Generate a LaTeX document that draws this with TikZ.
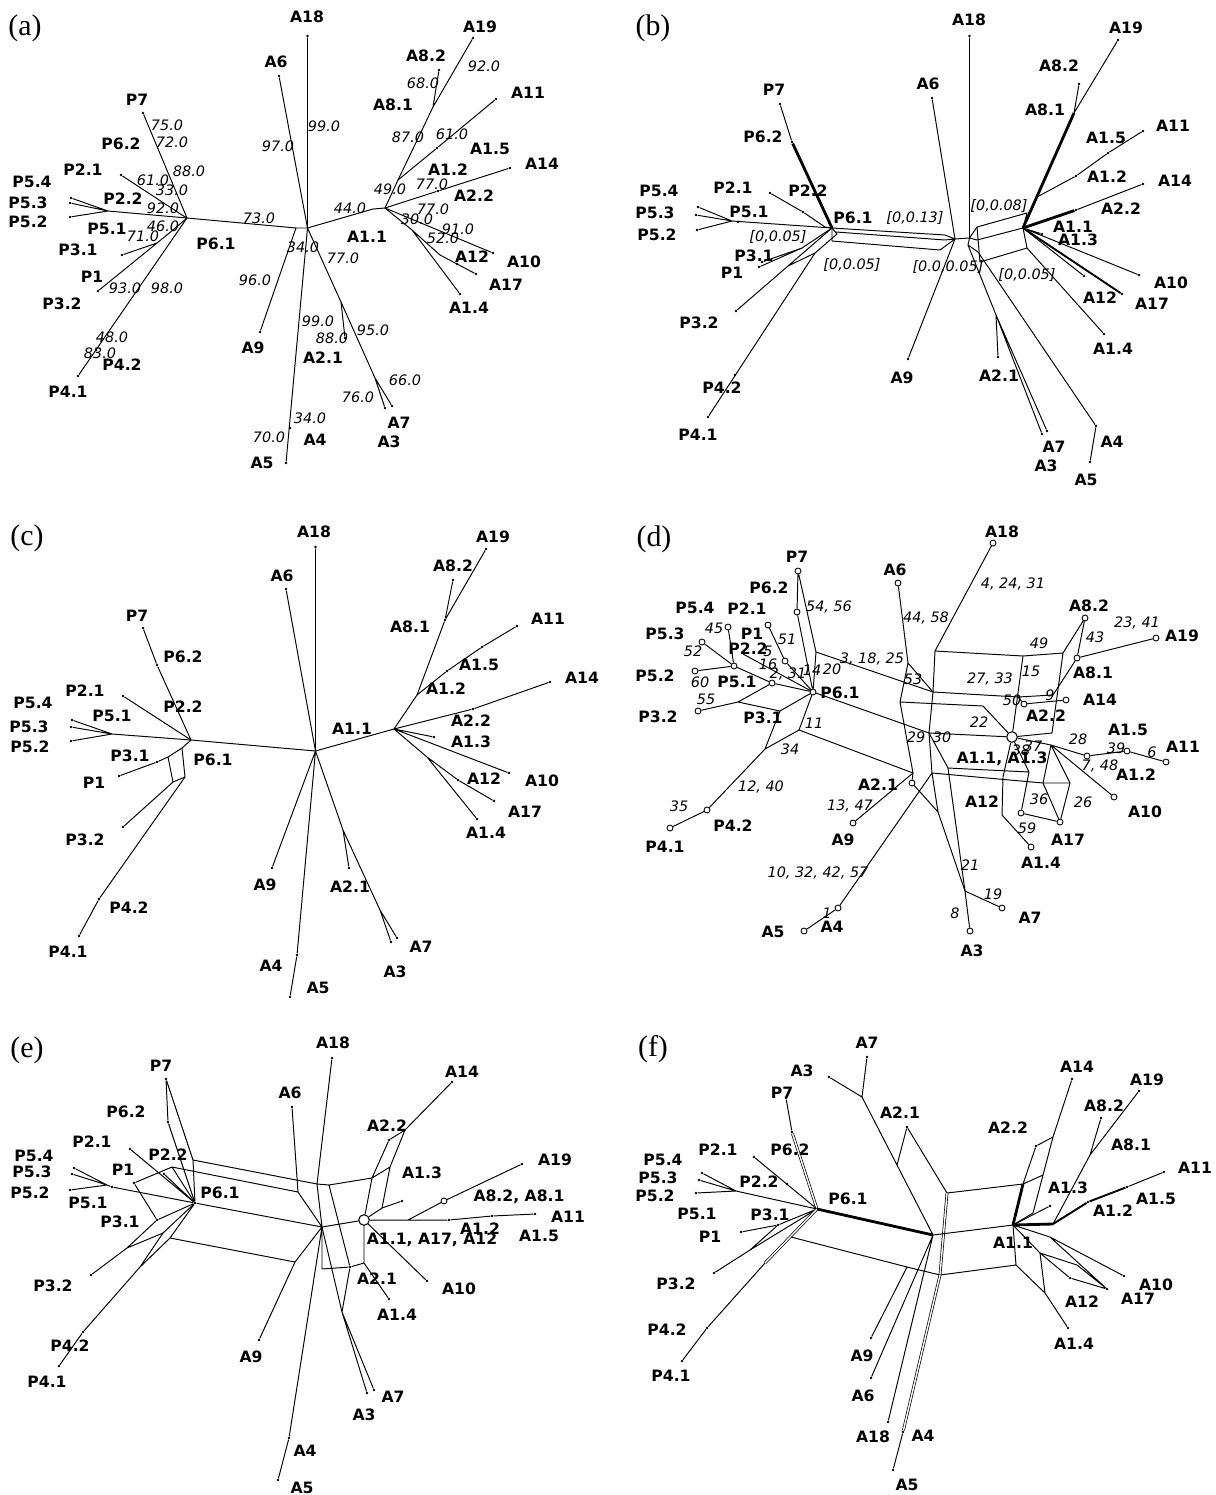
\documentclass[tikz,border=0pt]{standalone}
\usepackage{fontspec}
\newfontfamily\labfam{DejaVu Sans}
\newfontfamily\tagfam{Liberation Serif}

\begin{document}
\begin{tikzpicture}[x=0.02cm,y=-0.02cm,
    lab/.style={font=\labfam\bfseries\fontsize{8.9}{9}\selectfont,inner sep=0pt},
    bl/.style={font=\labfam\itshape\fontsize{8.2}{9}\selectfont,inner sep=0pt},
    tag/.style={font=\tagfam\fontsize{17}{18}\selectfont,inner sep=0pt},
    tip/.style={circle,fill,inner sep=0pt,minimum size=1.5pt},
    otip/.style={circle,draw,fill=white,inner sep=0pt,minimum size=3.4pt,line width=0.5pt},
    ctr/.style={circle,draw,fill=white,inner sep=0pt,minimum size=6pt,line width=0.6pt},
    net/.style={line width=0.55pt,line join=round},
    fat/.style={line width=1.6pt},
    dbl/.style={double,double distance=0.8pt,line width=0.4pt}]
  \useasboundingbox (0,0) rectangle (1216,1495);

  % ---- (a) tree with bootstrap values
  \node[tag] (ta) at (25,28) {(a)};
  \foreach \n/\p in {aC/{307.5,228},aCl/{296,228},a61/{187,218},a21j/{182,215},a5j/{108,211},
      a31j/{157,243},a1j/{173,230},a2j/{341,302},a37j/{375,378},a11/{385,208},a11l/{373,209},
      a8j/{398,180},a81/{433,107},a12j/{412,230},a17j/{440,255}}
    \coordinate (\n) at (\p);
  \foreach \n/\p in {aP7/{143,113},aP2-1/{121,175},aP5-4/{71,198},aP5-3/{70,203},aP5-2/{70,217},
      aP3-1/{122,255},aP1/{98,291},aP4-2/{96,350},aP4-1/{78,376},aA18/{307.5,36},aA6/{279,76},
      aA9/{260,332},aA4/{290,428},aA5/{286,463},aA2-1/{345,338},aA3/{385,408},aA7/{392,406},
      aA19/{473,38},aA8-2/{439,70},aA1-5/{437,148},aA11/{496,99},aA2-2/{438,191},aA14/{510,168},
      aA10/{493,253},aA12/{457,264},aA17/{476,274},aA1-4/{460,294}}
    \node[tip] (\n) at (\p) {};
  \draw[net] (aP7) -- (a61) -- (aCl) -- (aC) -- (a11l) -- (a11);
  \draw[net] (aP2-1) -- (a21j) -- (a61);
  \draw[net] (aP5-4) -- (a5j) (aP5-3) -- (a5j) (aP5-2) -- (a5j) -- (a61);
  \draw[net] (aP1) -- (a1j) -- (a61) (aP3-1) -- (a31j);
  \draw[net] (aP4-1) -- (a61);
  \draw[net] (aA18) -- (aC) (aA6) -- (aC) (aA9) -- (aCl) (aC) -- (aA5);
  \draw[net] (aC) -- (a2j) -- (aA2-1) (a2j) -- (a37j) -- (aA3) (a37j) -- (aA7);
  \draw[net] (a11) -- (a8j) -- (a81) -- (aA19) (a81) -- (aA8-2);
  \draw[net] (a8j) -- (aA1-5) -- (aA11);
  \draw[net] (a11) -- (aA2-2) -- (aA14) (a11) -- (aA10);
  \draw[net] (a11) -- (a12j) -- (a17j) -- (aA17) (a12j) -- (aA1-4);
  \foreach \p/\t [count=\i] in {{137,100}/P7,{121,144}/P6.2,{83,170}/P2.1,{32,182}/P5.4,{28,203}/P5.3,
      {28,222}/P5.2,{123,199}/P2.2,{107,229}/P5.1,{78,250}/P3.1,{92,277}/P1,{62,304}/P3.2,
      {122,365}/P4.2,{68,392}/P4.1,{216,244}/P6.1,{307,17}/A18,{276,62}/A6,{253,348}/A9,
      {323,358}/A2.1,{315,440}/A4,{262,463}/A5,{399,423}/A7,{389,442}/A3,{367,237}/A1.1,
      {480,27}/A19,{426,56}/A8.2,{393,105}/A8.1,{528,93}/A11,{490,149}/A1.5,{448,170}/A1.2,
      {542,164}/A14,{474,196}/A2.2,{524,262}/A10,{472,257}/A12,{506,285}/A17,{469,308}/A1.4}
    \node[lab] (la\i) at (\p) {\t};
  \foreach \p/\t [count=\i] in {{167,125}/75.0,{172,142}/72.0,{189,171}/88.0,{153,180}/61.0,
      {172,190}/33.0,{163,208}/92.0,{163,226}/46.0,{143,236}/71.0,{125,288}/93.0,{167,288}/98.0,
      {112,337}/48.0,{100,353}/83.0,{259,218}/73.0,{278,146}/97.0,{324,126}/99.0,{255,280}/96.0,
      {303,247}/34.0,{343,258}/77.0,{318,321}/99.0,{332,338}/88.0,{373,330}/95.0,{405,380}/66.0,
      {358,397}/76.0,{310,418}/34.0,{269,437}/70.0,{350,208}/44.0,{390,189}/49.0,{408,137}/87.0,
      {423,83}/68.0,{484,66}/92.0,{452,134}/61.0,{432,184}/77.0,{433,209}/77.0,{417,219}/30.0,
      {458,229}/91.0,{443,238}/52.0}
    \node[bl] (ba\i) at (\p) {\t};

  % ---- (b) network with intervals
  \node[tag] (tb) at (653,28) {(b)};
  \foreach \n/\p in {b61/{832,228},b21j/{825,227},b5j/{732,221},b31j/{802,248},b3j/{788,266},
      b4j/{815,253},b4k/{837,234},bs2/{836,232},bs3/{832,241},bB1/{945,235},bB2/{945,240},
      bB3/{940,250},bC1/{955,239},bC2/{969.5,238},bc18/{969.5,222},bR1/{977,227},bR2/{1027,213},
      bR3/{977,240},bR5/{980,262},bR6/{1027,248},b11/{1023,228},bD/{968,245},bj/{996,315},
      bE/{978,252},b8j/{1037,197},b81/{1074,113}}
    \coordinate (\n) at (\p);
  \foreach \n/\p in {bP7/{780,104},bP6-2/{792,142},bP2-1/{770,193},bP2-2/{803,212},bP5-4/{698,207},
      bP5-3/{696,215},bP5-2/{697,230},bP5-1/{738,222},bP3-1/{762,262},bP1/{759,267},bP3-2/{736,311},
      bP4-2/{735,375},bP4-1/{708,417},bA6/{932,98},bA18/{969.5,36},bA9/{908,359},bA19/{1118,40},
      bA8-2/{1079,84},bA1-2/{1076,176},bA1-5/{1108,153},bA11/{1143,131},bA2-2/{1076,210},
      bA14/{1143,184},bA1-3/{1042,234},bA10/{1139,275},bA17/{1122,294},bA12/{1084,276},
      bA1-4/{1104,334},bA2-1/{998,357},bA3/{1042,434},bA7/{1047,431},bA4/{1096,426},bA5/{1090,462}}
    \node[tip] (\n) at (\p) {};
  \draw[net] (bP7) -- (bP6-2);
  \draw[fat] (bP6-2) -- (b61);
  \draw[net] (bP2-1) -- (bP2-2) -- (b21j) -- (b61);
  \draw[net] (bP5-4) -- (b5j) (bP5-3) -- (b5j) (bP5-2) -- (b5j) -- (b61);
  \draw[net] (bP3-1) -- (b31j) -- (b61) (bP1) -- (b31j);
  \draw[net] (bP3-2) -- (b3j) -- (b61) (b3j) -- (b4j);
  \draw[net] (bP4-1) -- (b4j) -- (b4k) -- (b61);
  \draw[net] (b61) -- (bB1) -- (bC1) (bs2) -- (bB2) -- (bC1) (b61) -- (bs3) -- (bB3) -- (bC1);
  \draw[net] (bA6) -- (bC1) (bA9) -- (bC1) (bA18) -- (bc18) -- (bC2) -- (bC1);
  \draw[net] (bC2) -- (bR1) -- (bR2) -- (b11) (bC2) -- (bR3) -- (b11);
  \draw[net] (bR1) -- (bR5) -- (bR6) -- (b11);
  \draw[fat] (b11) -- (b81);
  \draw[net] (b81) -- (bA19) (b81) -- (bA8-2) (b8j) -- (bA1-2) -- (bA1-5) -- (bA11);
  \draw[fat] (b11) -- (bA2-2);
  \draw[net] (bA2-2) -- (bA14);
  \draw[net] (b11) -- (bA1-3) (b11) -- (bA10) (b11) -- (bA12) (bR6) -- (bA1-4);
  \draw[line width=1.1pt] (b11) -- (bA17);
  \draw[net] (bC2) -- (bD) -- (bj) -- (bA3) (bj) -- (bA7) (bj) -- (bA2-1);
  \draw[net] (bD) -- (bE) -- (bA4) -- (bA5);
  \foreach \p/\t [count=\i] in {{774,90}/P7,{763,137}/P6.2,{733,188}/P2.1,{808,191}/P2.2,
      {659,191}/P5.4,{655,213}/P5.3,{657,235}/P5.2,{749,212}/P5.1,{853,218}/P6.1,{754,256}/P3.1,
      {732,273}/P1,{699,323}/P3.2,{722,388}/P4.2,{698,435}/P4.1,{902,378}/A9,{928,84}/A6,
      {969,20}/A18,{1126,28}/A19,{1059,66}/A8.2,{1045,110}/A8.1,{1173,126}/A11,{1106,138}/A1.5,
      {1107,177}/A1.2,{1175,181}/A14,{1121,209}/A2.2,{1073,227}/A1.1,{1078,240}/A1.3,
      {1171,283}/A10,{1152,304}/A17,{1100,298}/A12,{1113,349}/A1.4,{999,376}/A2.1,
      {1054,447}/A7,{1046,466}/A3,{1112,442}/A4,{1086,480}/A5}
    \node[lab] (lb\i) at (\p) {\t};
  \foreach \p/\t [count=\i] in {{778,237}/{[0,0.05]},{852,265}/{[0,0.05]},{915,218}/{[0,0.13]},
      {999,206}/{[0,0.08]},{948,267}/{[0.0,0.05]},{1027,275}/{[0,0.05]}}
    \node[bl] (bb\i) at (\p) {\t};

  % ---- (c) network
  \node[tag] (tc) at (27,538) {(c)};
  \foreach \n/\p in {cC/{315.5,751},c61/{191,740},c5j/{112,734},cb1/{168,757},cb2/{182,748},
      cb3/{173,782},cb4/{185,777},c2j/{343,830},c37/{380,910},c11/{394,729},c8j/{417,695},
      c12j/{427,757}}
    \coordinate (\n) at (\p);
  \foreach \n/\p in {cP7/{143,628},cP6-2/{157,665},cP2-1/{123,696},cP5-4/{72,720},cP5-3/{71,727},
      cP5-2/{71,741},cP3-1/{157,762},cP1/{119,776},cP3-2/{123,827},cP4-2/{99,899},cP4-1/{79,936},
      cA18/{315.5,547},cA6/{286,589},cA9/{272,868},cA4/{297,955},cA5/{290,997},cA2-1/{349,868},
      cA3/{391,942},cA7/{397,938},cA8-1/{445,620},cA19/{486,549},cA8-2/{453,580},cA1-2/{447,671},
      cA1-5/{482,647},cA11/{517,626},cA2-2/{473,709},cA14/{550,682},cA1-3/{434,737},
      cA10/{509,773},cA12/{458,780},cA17/{494,801},cA1-4/{477,819}}
    \node[tip] (\n) at (\p) {};
  \draw[net] (cP7) -- (cP6-2) -- (c61) -- (cC) -- (c11);
  \draw[net] (cP2-1) -- (c61);
  \draw[net] (cP5-4) -- (c5j) (cP5-3) -- (c5j) (cP5-2) -- (c5j) -- (c61);
  \draw[net] (cP1) -- (cP3-1) -- (cb1) -- (cb2) -- (c61);
  \draw[net] (cb1) -- (cb3) -- (cb4) -- (cb2);
  \draw[net] (cb3) -- (cP3-2) (cb4) -- (cP4-2) -- (cP4-1);
  \draw[net] (cA18) -- (cC) (cA6) -- (cC) (cA9) -- (cC) (cC) -- (cA4) -- (cA5);
  \draw[net] (cC) -- (c2j) -- (cA2-1) (c2j) -- (c37) -- (cA3) (c37) -- (cA7);
  \draw[net] (c11) -- (c8j) -- (cA8-1) -- (cA19) (cA8-1) -- (cA8-2);
  \draw[net] (c8j) -- (cA1-2) -- (cA1-5) -- (cA11);
  \draw[net] (c11) -- (cA2-2) -- (cA14) (c11) -- (cA1-3) (c11) -- (cA10);
  \draw[net] (c11) -- (c12j) -- (cA12) -- (cA17) (c12j) -- (cA1-4);
  \foreach \p/\t [count=\i] in {{137,616}/P7,{183,657}/P6.2,{183,707}/P2.2,{85,691}/P2.1,
      {33,703}/P5.4,{29,727}/P5.3,{30,747}/P5.2,{112,716}/P5.1,{213,760}/P6.1,{130,756}/P3.1,
      {94,783}/P1,{85,840}/P3.2,{129,908}/P4.2,{68,952}/P4.1,{282,576}/A6,{314,532}/A18,
      {265,885}/A9,{271,966}/A4,{318,988}/A5,{350,887}/A2.1,{421,947}/A7,{395,972}/A3,
      {352,729}/A1.1,{493,537}/A19,{453,566}/A8.2,{410,627}/A8.1,{548,619}/A11,{479,665}/A1.5,
      {446,689}/A1.2,{582,678}/A14,{471,721}/A2.2,{471,742}/A1.3,{542,781}/A10,{484,779}/A12,
      {525,812}/A17,{486,833}/A1.4}
    \node[lab] (lc\i) at (\p) {\t};

  % ---- (d) network with split numbers
  \node[tag] (td) at (654,539) {(d)};
  \foreach \n/\p in {d1/{816,652},d2/{743,654},d3/{738,702},d4/{780,711},d5/{765,749},d6/{799,730},
      dTL/{935,651},dTM/{1023,656},dTR/{1063,653},dML/{933,692},dMM/{1018,697},dMR/{1053,695},
      dA6j/{908,663},dV1/{900,702},dX/{983,706},dH/{929,733},dV2/{913,773},dRM/{1052,733},
      dE/{1051,745},dBL/{932,773},dB2/{948,768},dBM/{1029,772},dBR1/{1043,783},dBR2/{1070,783},
      dLo1/{1003,777},dLo2/{1002,815},d21/{965,891},dK/{938,812}}
    \coordinate (\n) at (\p);
  \foreach \n/\p in {dP7/{798,571},dP6-2/{797,612},dP2-1/{768,625},dP5-4/{728,627},dP5-3/{702,642},
      dP5-2/{695,671},dP5-1/{734,666},dP1/{785,661},dP2-2/{772,683},dP6-1/{813,692},dP3-2/{698,711},
      dP4-2/{707,810},dP4-1/{670,828},dA9/{853,823},dA2-1/{912,783},dA4/{838,908},dA5/{804,931},
      dA6/{898,583},dA18/{993,543},dA8-2/{1085,618},dA8-1/{1077,658},dA19/{1156,638},
      dA14/{1066,700},dA2-2/{1024,704},dA1-2/{1087,756},dA1-5/{1127,751},dA11/{1166,762},
      dA10/{1114,797},dA17/{1060,822},dA12/{1021,813},dA1-4/{1031,847},dA3/{970,931},dA7/{1002,908}}
    \node[otip] (\n) at (\p) {};
  \node[ctr] (dC) at (1012,737) {};
  \draw[net] (dP7) -- (dP6-2) -- (dP6-1) (dP7) -- (d1) -- (dP6-1);
  \draw[net] (dP2-1) -- (dP1) -- (dP6-1) (d2) -- (dP6-1);
  \draw[net] (dP5-4) -- (dP5-1) (dP5-3) -- (dP5-1) (dP5-2) -- (dP5-1) -- (dP2-2) -- (dP6-1);
  \draw[net] (dP3-2) -- (d3) -- (dP2-2) (d3) -- (d4) -- (dP6-1) (d4) -- (d5) -- (d6) -- (dP6-1);
  \draw[net] (d5) -- (dP4-2) -- (dP4-1);
  \draw[net] (d1) -- (dML) (dP6-1) -- (dH) (d6) -- (dV2);
  \draw[net] (dA6) -- (dA6j) -- (dV1) -- (dV2) (dA6j) -- (dML) (dV1) -- (dX) -- (dC);
  \draw[net] (dA9) -- (dV2) -- (dA2-1);
  \draw[net] (dA18) -- (dTL) -- (dTM) -- (dTR) (dTL) -- (dML) -- (dH) -- (dBL);
  \draw[net] (dML) -- (dMM) -- (dMR) (dTM) -- (dC) (dTR) -- (dRM) (dC) -- (dRM);
  \draw[net] (dA8-2) -- (dTR) (dA8-2) -- (dA8-1) -- (dA19) (dA8-1) -- (dMR);
  \draw[net] (dMM) -- (dA2-2) -- (dA14);
  \draw[net] (dH) -- (dC) (dH) -- (dB2) -- (dBM) -- (dC) (dBM) -- (dA12);
  \draw[net] (dBL) -- (dBR1) -- (dBR2);
  \draw[net] (dC) -- (dLo1) -- (dLo2) -- (dA1-4);
  \draw[net] (dC) -- (dE) -- (dA1-2) -- (dA1-5) -- (dA11) (dE) -- (dA10) (dE) -- (dBR1) (dE) -- (dBR2);
  \draw[net] (dBR1) -- (dA17) (dBR2) -- (dA17) (dA12) -- (dA17);
  \draw[net] (dB2) -- (d21) -- (dA3) (d21) -- (dA7);
  \draw[net] (dA4) -- (dBL) -- (dK) (dA4) -- (dA5) (dA2-1) -- (dK) -- (d21);
  \foreach \p/\t [count=\i] in {{797,557}/P7,{769,588}/P6.2,{695,608}/P5.4,{747,609}/P2.1,
      {665,634}/P5.3,{752,634}/P1,{748,649}/P2.2,{655,676}/P5.2,{737,682}/P5.1,{840,693}/P6.1,
      {658,717}/P3.2,{763,718}/P3.1,{733,826}/P4.2,{665,847}/P4.1,{895,570}/A6,{878,785}/A2.1,
      {843,840}/A9,{773,932}/A5,{832,927}/A4,{1002,532}/A18,{1089,606}/A8.2,{1182,636}/A19,
      {1093,673}/A8.1,{1100,700}/A14,{1046,716}/A2.2,{1128,730}/A1.5,{1183,747}/A11,
      {1136,775}/A1.2,{1002,759}/{A1.1, A1.3},{1145,812}/A10,{982,802}/A12,{1068,840}/A17,
      {1041,863}/A1.4,{1030,918}/A7,{972,951}/A3}
    \node[lab] (ld\i) at (\p) {\t};
  \foreach \p/\t [count=\i] in {{829,607}/{54, 56},{714,628}/45,{693,651}/52,{700,682}/60,
      {706,699}/55,{787,639}/51,{768,651}/5,{768,664}/16,{788,674}/{2, 31},{812,670}/14,
      {832,669}/20,{872,659}/{3, 18, 25},{814,723}/11,{790,749}/34,{761,787}/{12, 40},
      {679,806}/35,{850,806}/{13, 47},{818,873}/{10, 32, 42, 57},{827,913}/1,{926,618}/{44, 58},
      {913,679}/53,{1013,584}/{4, 24, 31},{1039,643}/49,{1095,637}/43,{1137,623}/{23, 41},
      {1031,671}/15,{990,679}/{27, 33},{1012,700}/50,{1050,695}/9,{979,722}/22,{916,737}/29,
      {942,737}/30,{1021,750}/38,{1033,746}/37,{1078,739}/28,{1116,748}/39,{1152,752}/6,
      {1100,766}/{7, 48},{1039,799}/36,{1083,802}/26,{1027,828}/59,{970,865}/21,{993,894}/19,
      {955,913}/8}
    \node[bl] (bd\i) at (\p) {\t};

  % ---- (e) network
  \node[tag] (te) at (27,1050) {(e)};
  \foreach \n/\p in {e1/{193,1160},e2/{172,1167},e3/{127,1248},e4/{163,1233},e5/{140,1267},
      e6/{170,1238},e5j/{107,1185},eA/{317,1184},eA6j/{298,1192},eH/{322,1227},eA9j/{295,1262},
      eT1/{329,1185},eT2/{372,1178},eT3/{390,1167},eT4/{382,1208},eT5/{405,1130},eB1/{322,1269},
      eB2/{364,1263},eJ/{342,1312},eF/{408,1220}}
    \coordinate (\n) at (\p);
  \foreach \n/\p in {eP7/{166,1079},eP6-2/{168,1122},eP6-1/{195,1203},eP2-1/{130,1149},
      eP2-2/{164,1174},eP5-4/{74,1168},eP5-3/{72,1174},eP5-2/{70,1190},eP5-1/{112,1187},
      eP1/{134,1183},eP3-1/{157,1220},eP3-2/{91,1275},eP4-2/{83,1332},eP4-1/{59,1366},
      eA6/{292,1107},eA18/{332,1058},eA9/{259,1340},eA4/{289,1438},eA5/{278,1480},
      eA2-1/{350,1267},eA2-2/{389,1140},eA14/{452,1082},eA1-3/{402,1201},eA19/{522,1164},
      eA1-2/{449,1220},eA1-5/{492,1216},eA11/{535,1214},eA10/{427,1281},eA1-4/{389,1299},
      eA3/{367,1393},eA7/{374,1390}}
    \node[tip] (\n) at (\p) {};
  \node[ctr] (eC) at (364,1220) {};
  \node[otip] (eA8) at (444,1201) {};
  \draw[net] (eP7) -- (eP6-2) -- (eP6-1) (eP7) -- (e1) -- (eP6-1) (e1) -- (eA);
  \draw[net] (eP2-1) -- (eP6-1) (eP2-2) -- (eP6-1);
  \draw[net] (eP5-4) -- (e5j) (eP5-3) -- (e5j) (eP5-2) -- (e5j) -- (eP5-1) -- (eP6-1);
  \draw[net] (eP1) -- (e2) -- (eP6-1) (e2) -- (eA6j) (eP1) -- (eP3-1) -- (eP6-1);
  \draw[net] (eP3-2) -- (e3) -- (e4) -- (eP6-1) (e3) -- (eP3-1);
  \draw[net] (eP4-1) -- (eP4-2) -- (e5) -- (e4) (e5) -- (e6) -- (eP6-1) (e6) -- (eA9j);
  \draw[net] (eP6-1) -- (eH) (eA6) -- (eA6j) -- (eH) (eA18) -- (eA) -- (eH) (eA9) -- (eA9j) -- (eH);
  \draw[net] (eH) -- (eA4) -- (eA5) (eH) -- (eC) (eH) -- (eB1) -- (eA2-1) -- (eB2) -- (eC);
  \draw[net] (eA) -- (eT1) -- (eT2) -- (eC) (eT1) -- (eA2-1) -- (eJ) (eH) -- (eJ) -- (eA3) (eJ) -- (eA7);
  \draw[net] (eT2) -- (eA2-2) -- (eT5) -- (eA14) (eT5) -- (eT3) -- (eT4) (eT2) -- (eT3);
  \draw[net] (eC) -- (eT4) -- (eA1-3) (eC) -- (eA1-2) -- (eA1-5) -- (eA11) (eF) -- (eA8) -- (eA19);
  \draw[net] (eC) -- (eA10) (eB2) -- (eA1-4);
  \foreach \p/\t [count=\i] in {{161,1066}/P7,{126,1112}/P6.2,{92,1142}/P2.1,{34,1156}/P5.4,
      {32,1172}/P5.3,{30,1193}/P5.2,{88,1203}/P5.1,{123,1170}/P1,{168,1155}/P2.2,{220,1193}/P6.1,
      {120,1222}/P3.1,{53,1286}/P3.2,{70,1346}/P4.2,{47,1382}/P4.1,{290,1093}/A6,{251,1357}/A9,
      {305,1451}/A4,{302,1488}/A5,{333,1043}/A18,{462,1072}/A14,{387,1126}/A2.2,{422,1173}/A1.3,
      {555,1160}/A19,{519,1197}/{A8.2, A8.1},{568,1217}/A11,{480,1229}/A1.2,{539,1236}/A1.5,
      {432,1240}/{A1.1, A17, A12},{377,1279}/A2.1,{459,1289}/A10,{397,1315}/A1.4,{393,1397}/A7,
      {364,1415}/A3}
    \node[lab] (le\i) at (\p) {\t};

  % ---- (f) network
  \node[tag] (tf) at (653,1049) {(f)};
  \foreach \n/\p in {fj1/{862,1097},fj2/{897,1165},fC/{933,1235},fj3/{947,1193},fTR/{1023,1184},
      f11/{1013,1225},fBL/{940,1275},fBR/{1016,1265},f61/{817,1209},f5j/{736,1191},f3/{750,1250},
      f4/{765,1263},f4b/{791,1237},fq/{907,1267},fk1/{1053,1137},fk3/{1043,1175},fk2/{1033,1213},
      fm/{1053,1224},fA8j/{1090,1155},fn/{1050,1237},fo/{1040,1253},fp/{1077,1265},fq2/{1045,1293}}
    \coordinate (\n) at (\p);
  \foreach \n/\p in {fA7/{867,1057},fA3/{829,1077},fA2-1/{907,1127},fP7/{786,1098},fP6-2/{792,1132},
      fP2-1/{754,1157},fP2-2/{787,1184},fP5-4/{702,1173},fP5-3/{699,1180},fP5-2/{696,1193},
      fP1/{741,1232},fP3-1/{778,1225},fP3-2/{714,1273},fP4-2/{707,1328},fP4-1/{682,1361},
      fA9/{871,1338},fA6/{871,1378},fA18/{888,1422},fA4/{903,1432},fA5/{893,1470},fA14/{1072,1079},
      fA2-2/{1036,1146},fA1-3/{1050,1206},fA19/{1139,1091},fA8-2/{1101,1118},fA1-2/{1088,1202},
      fA1-5/{1127,1187},fA11/{1164,1172},fA10/{1124,1276},fA17/{1107,1289},fA12/{1070,1278},
      fA1-4/{1068,1328}}
    \node[tip] (\n) at (\p) {};
  \draw[net] (fA7) -- (fj1) (fA3) -- (fj1) -- (fj2) -- (fC) (fA2-1) -- (fj2) (fA2-1) -- (fj3) -- (fTR);
  \draw[dbl] (fj3) -- (fBL);
  \draw[net] (fBL) -- (fBR) -- (f11) (fC) -- (f11);
  \draw[fat] (fTR) -- (f11);
  \draw[net] (fP7) -- (fP6-2);
  \draw[dbl] (fP6-2) -- (f61);
  \draw[net] (fP2-1) -- (f61) (fP5-4) -- (f5j) (fP5-3) -- (f5j) (fP5-2) -- (f5j) -- (f61);
  \draw[net] (fP1) -- (fP3-1) -- (f61) (fP3-2) -- (f3) -- (f61) (f3) -- (fP3-1);
  \draw[net] (fP4-1) -- (fP4-2) -- (f4);
  \draw[dbl] (f4) -- (f61);
  \draw[net] (f4b) -- (fq) -- (fBL) (fA9) -- (fq) (fA6) -- (fC) (fA18) -- (fC);
  \draw[fat] (f61) -- (fC);
  \draw[dbl] (fA4) -- (fBL);
  \draw[net] (fA5) -- (fA4);
  \draw[net] (fA14) -- (fk1) -- (fk3) -- (fk2) -- (f11) (fA2-2) -- (fk1) (fA2-2) -- (fTR) (fk3) -- (fTR);
  \draw[net] (f11) -- (fA1-3);
  \draw[fat] (f11) -- (fm);
  \draw[net] (fm) -- (fA8j) -- (fA19) (fA8j) -- (fA8-2);
  \draw[line width=1.1pt] (fm) -- (fA1-2) -- (fA1-5);
  \draw[net] (fA1-5) -- (fA11);
  \draw[net] (f11) -- (fn) -- (fA10) (f11) -- (fo) -- (fA12) (fo) -- (fp) -- (fA17) (fn) -- (fA17) (fA12) -- (fA17);
  \draw[net] (fBR) -- (fq2) -- (fA1-4) (fo) -- (fq2);
  \foreach \p/\t [count=\i] in {{867,1043}/A7,{802,1071}/A3,{782,1093}/P7,{900,1113}/A2.1,
      {790,1150}/P6.2,{718,1150}/P2.1,{663,1160}/P5.4,{658,1178}/P5.3,{655,1196}/P5.2,
      {759,1182}/P2.2,{848,1199}/P6.1,{697,1214}/P5.1,{770,1215}/P3.1,{710,1237}/P1,
      {676,1284}/P3.2,{667,1330}/P4.2,{671,1376}/P4.1,{862,1356}/A9,{863,1396}/A6,{873,1437}/A18,
      {907,1485}/A5,{923,1436}/A4,{1077,1067}/A14,{1147,1080}/A19,{1104,1106}/A8.2,
      {1008,1128}/A2.2,{1131,1145}/A8.1,{1195,1168}/A11,{1068,1188}/A1.3,{1156,1199}/A1.5,
      {1113,1211}/A1.2,{1013,1243}/A1.1,{1156,1285}/A10,{1138,1299}/A17,{1082,1302}/A12,
      {1074,1344}/A1.4}
    \node[lab] (lf\i) at (\p) {\t};
\end{tikzpicture}
\end{document}
